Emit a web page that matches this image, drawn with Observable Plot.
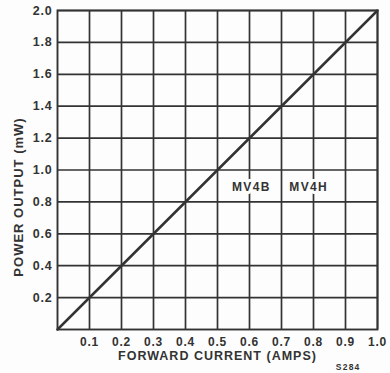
<!DOCTYPE html>
<html>
<head>
<meta charset="utf-8">
<script src="https://cdn.jsdelivr.net/npm/d3@7"></script>
<script src="https://cdn.jsdelivr.net/npm/@observablehq/plot@0.6"></script>
<style>
  html, body { margin: 0; padding: 0; background: #fdfdfd; }
  svg { font-family: "Liberation Sans", Arial, sans-serif; }
</style>
</head>
<body>
<div id="chart"></div>
<script>
const xTicks = [0.1, 0.2, 0.3, 0.4, 0.5, 0.6, 0.7, 0.8, 0.9, 1.0];
const yTicks = [0.2, 0.4, 0.6, 0.8, 1.0, 1.2, 1.4, 1.6, 1.8, 2.0];
const current = [0, 1.0];
const power = [0, 2.0];
const labelNames = ["MV4B", "MV4H"];
const labelX = [0.606, 0.785];
const labelY = [0.89, 0.89];

const lineData = current.map((c, i) => ({current: c, power: power[i]}));
const labels = labelNames.map((n, i) => ({name: n, x: labelX[i], y: labelY[i]}));
const ink = "#333";

const chart = Plot.plot({
  width: 390,
  height: 373,
  marginLeft: 57,
  marginRight: 13,
  marginTop: 10,
  marginBottom: 44,
  style: {background: "transparent", color: ink},
  x: {domain: [0, 1.0]},
  y: {domain: [0, 2.0]},
  marks: [
    Plot.gridX(xTicks, {stroke: ink, strokeOpacity: 1, strokeWidth: 1.7}),
    Plot.gridY(yTicks, {stroke: ink, strokeOpacity: 1, strokeWidth: 1.7}),
    Plot.frame({stroke: ink, strokeWidth: 1.9}),
    Plot.line(lineData, {x: "current", y: "power", stroke: ink, strokeWidth: 2.5}),
    Plot.text(labels, {x: "x", y: "y", text: "name", fill: ink, stroke: "#fdfdfd", strokeWidth: 6, fontSize: 12, fontWeight: "bold", className: "lbl"}),
    Plot.axisX(xTicks, {tickSize: 0, tickPadding: 8, tickFormat: d3.format(".1f"), fontSize: 12, fontWeight: "bold", fill: ink, label: null}),
    Plot.axisY(yTicks, {tickSize: 0, tickPadding: 5, tickFormat: d3.format(".1f"), fontSize: 12.5, fontWeight: "bold", fill: ink, label: null}),
    Plot.text(["FORWARD CURRENT (AMPS)"], {frameAnchor: "bottom", dy: 30, text: d => d, fontSize: 12.5, fontWeight: "bold", fill: ink, className: "ttl"}),
    Plot.text(["POWER OUTPUT (mW)"], {frameAnchor: "left", textAnchor: "middle", dx: -39, dy: 27, rotate: -90, text: d => d, fontSize: 13, fontWeight: "bold", fill: ink, className: "ttl"}),
    Plot.text(["S284"], {frameAnchor: "bottom-right", dx: -17, dy: 40, text: d => d, fontSize: 8.5, fontWeight: "bold", fill: ink, className: "code"})
  ]
});
chart.querySelectorAll("text").forEach(t => t.style.letterSpacing = "0.8px");
chart.querySelectorAll(".ttl text").forEach(t => t.style.letterSpacing = "1px");
chart.querySelectorAll(".lbl text").forEach(t => t.style.letterSpacing = "1.4px");
chart.querySelectorAll(".code text").forEach(t => t.style.letterSpacing = "1.2px");
document.getElementById("chart").appendChild(chart);
</script>
</body>
</html>
